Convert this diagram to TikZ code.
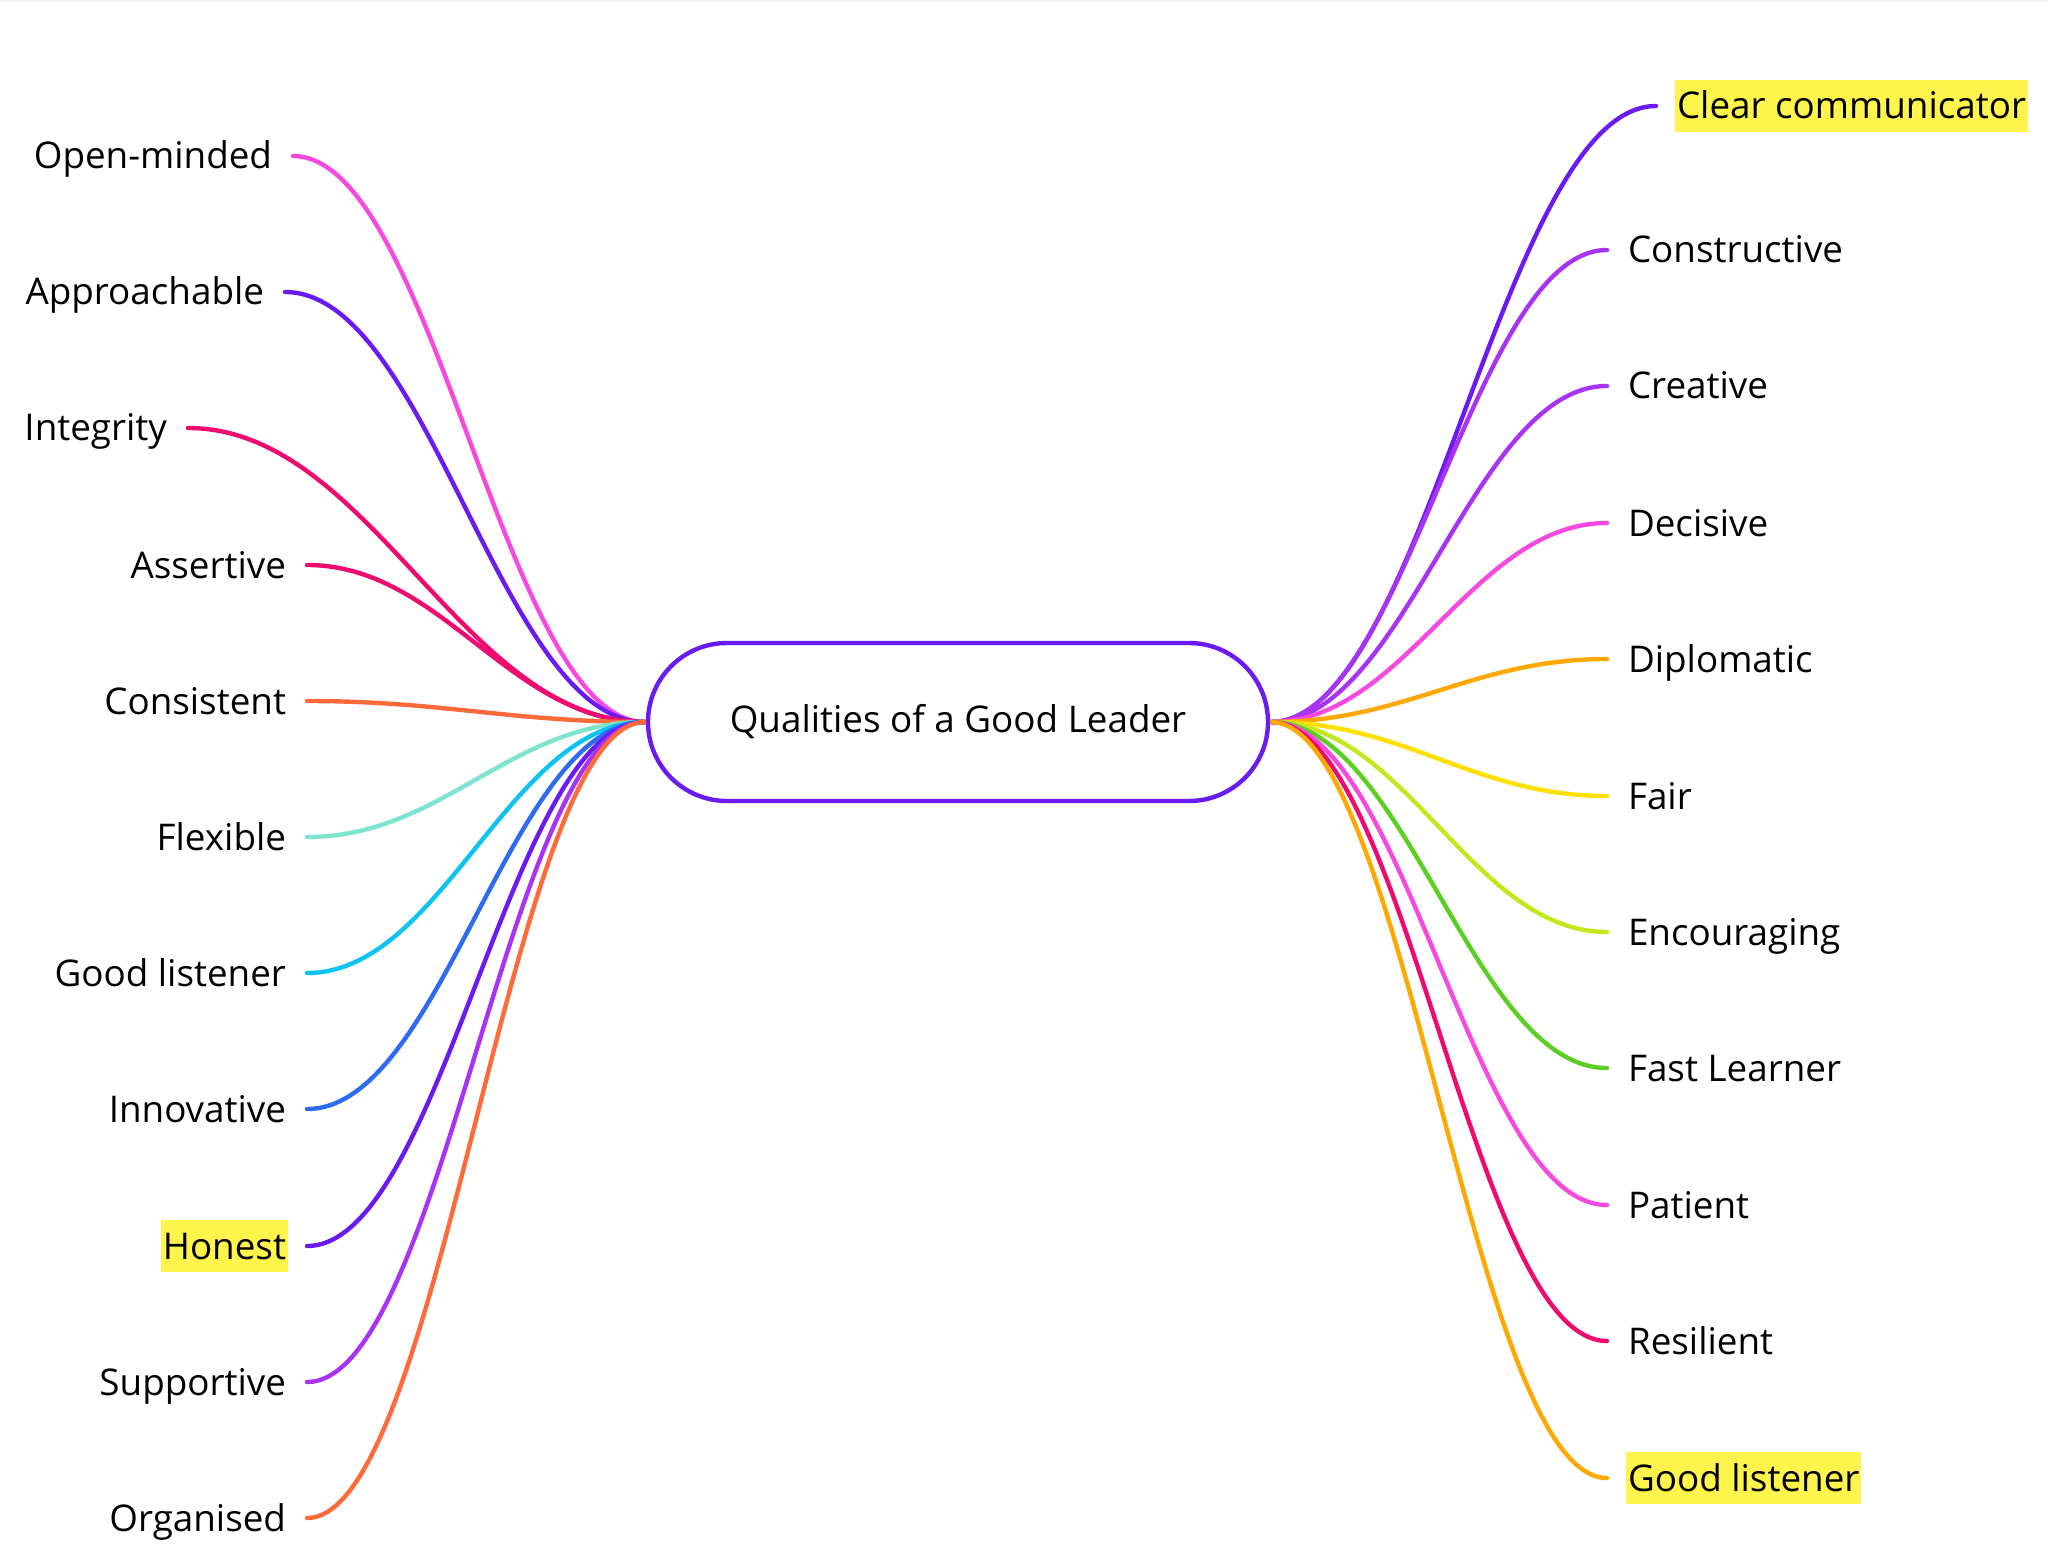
\documentclass[tikz,border=0pt]{standalone}
\usepackage{fontspec}
\setmainfont{Open Sans}
\definecolor{cViolet}{HTML}{6A1BF2}
\definecolor{cPurple}{HTML}{A833F5}
\definecolor{cPink}{HTML}{F748E0}
\definecolor{cCrimson}{HTML}{EE0A6E}
\definecolor{cOrangeRed}{HTML}{FF6A3A}
\definecolor{cAqua}{HTML}{7EE3CF}
\definecolor{cCyan}{HTML}{0CC3F2}
\definecolor{cBlue}{HTML}{2D6CF2}
\definecolor{cOrange}{HTML}{FFA800}
\definecolor{cYellow}{HTML}{FFE000}
\definecolor{cLime}{HTML}{C3E81E}
\definecolor{cGreen}{HTML}{5BCF22}
\definecolor{cHigh}{HTML}{FFF44C}
\begin{document}
\begin{tikzpicture}[x=0.5pt,y=-0.5pt,
  lbl/.style={font=\fontsize{18.4}{22}\selectfont, inner xsep=1pt, inner ysep=0pt,
    text height=19.5pt, text depth=6.5pt, outer xsep=9.5pt, outer ysep=0pt},
  hl/.style={fill=cHigh},
  nohl/.style={},
  branch/.style={line width=2.2pt, line cap=round},
  centre/.style={draw=cViolet, line width=2.2pt, fill=white, rounded corners=39.5pt,
    minimum width=310pt, minimum height=79pt, inner sep=0pt, outer sep=0pt,
    font=\fontsize{18.4}{22}\selectfont}]
\useasboundingbox (0,0) rectangle (2048,1561);
\fill[white] (0,0) rectangle (2048,1561);
\fill[black!5] (0,0) rectangle (2048,2);
\coordinate (hubL) at (645,722);
\coordinate (hubR) at (1271,722);
\foreach \t/\y/\x/\c/\s [count=\i] in {
  Open-minded/156/293/cPink/nohl,
  Approachable/292/285/cViolet/nohl,
  Integrity/428/188/cCrimson/nohl,
  Assertive/565/307/cCrimson/nohl,
  Consistent/701/307/cOrangeRed/nohl,
  Flexible/837/307/cAqua/nohl,
  Good listener/973/307/cCyan/nohl,
  Innovative/1109/307/cBlue/nohl,
  Honest/1246/307/cViolet/hl,
  Supportive/1382/307/cPurple/nohl,
  Organised/1518/307/cOrangeRed/nohl}{
  \node[lbl,\s,anchor=east] (L\i) at (\x,\y) {\t};
  \pgfmathsetmacro\cc{0.4*(645-\x)}
  \draw[branch,\c] (hubL) .. controls +(-\cc,0) and +(\cc,0) .. (L\i.east);
}
\foreach \t/\y/\x/\c/\s [count=\i] in {
  Clear communicator/106/1656/cViolet/hl,
  Constructive/250/1607/cPurple/nohl,
  Creative/386/1607/cPurple/nohl,
  Decisive/523/1607/cPink/nohl,
  Diplomatic/659/1607/cOrange/nohl,
  Fair/796/1607/cYellow/nohl,
  Encouraging/932/1607/cLime/nohl,
  Fast Learner/1068/1607/cGreen/nohl,
  Patient/1205/1607/cPink/nohl,
  Resilient/1341/1607/cCrimson/nohl,
  Good listener/1478/1607/cOrange/hl}{
  \node[lbl,\s,anchor=west] (R\i) at (\x,\y) {\t};
  \pgfmathsetmacro\cc{0.4*(\x-1271)}
  \draw[branch,\c] (hubR) .. controls +(\cc,0) and +(-\cc,0) .. (R\i.west);
}
\node[centre] (centre) at (958,722) {Qualities of a Good Leader};
\end{tikzpicture}
\end{document}
